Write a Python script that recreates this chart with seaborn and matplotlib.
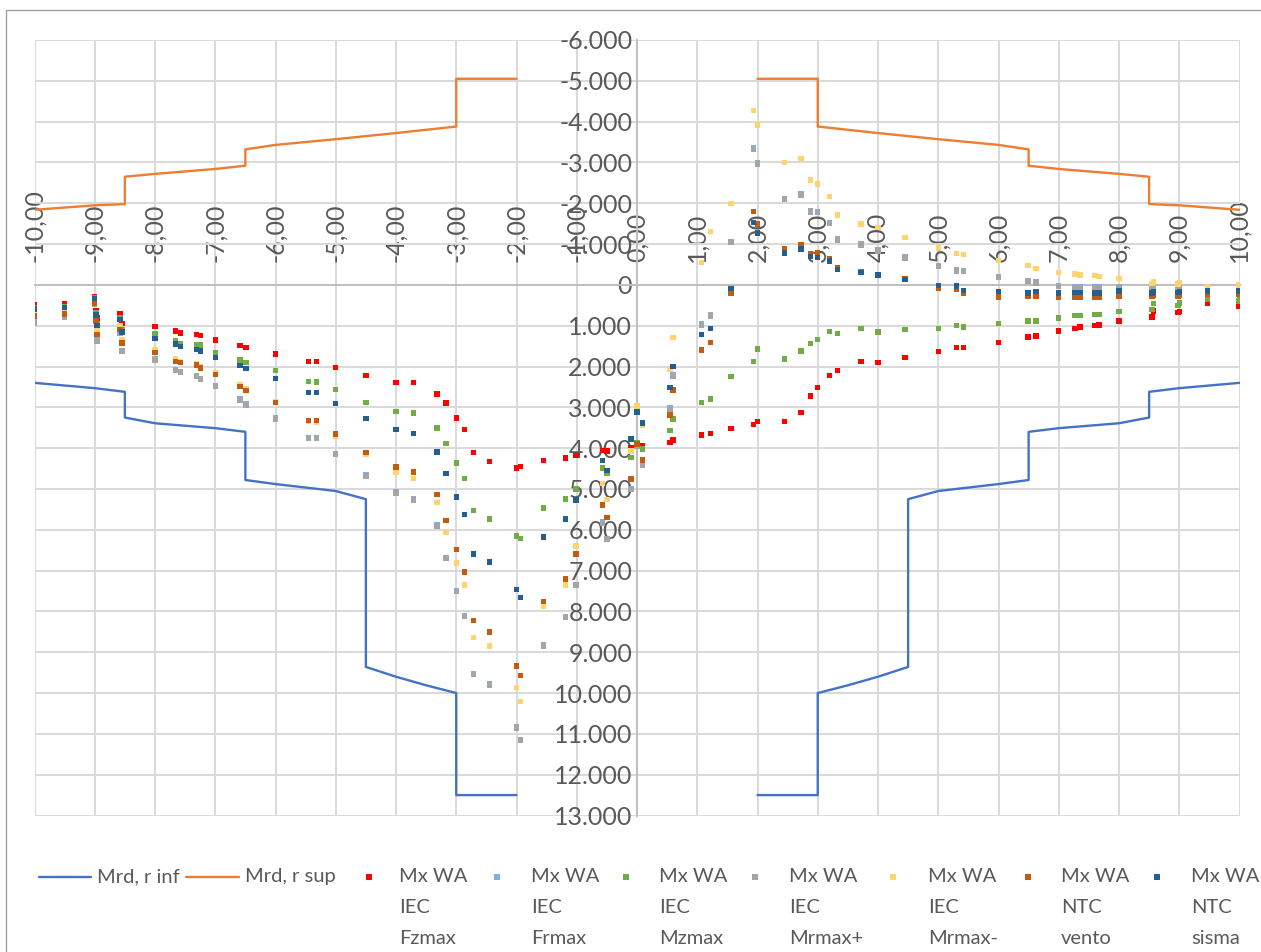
import numpy as np
import pandas as pd
import matplotlib
matplotlib.use("Agg")
import matplotlib.pyplot as plt
from matplotlib.lines import Line2D
from matplotlib.ticker import FuncFormatter, MultipleLocator
import seaborn as sns

# stations along the axis (m) and bending moments (kNm) per load case
x_pos = [-10.00, -9.50, -9.00, -8.98, -8.96, -8.58, -8.55, -8.00, -7.66, -7.58,
         -7.31, -7.24, -7.00, -6.59, -6.49, -6.00, -5.45, -5.32, -5.00, -4.50,
         -4.00, -3.71, -3.32, -3.17, -3.00, -2.86, -2.71, -2.45, -2.00, -1.93,
         -1.55, -1.19, -1.01, -0.57, -0.50, -0.10, 0.00, 0.09, 0.55, 0.60,
         1.07, 1.22, 1.56, 1.93, 2.00, 2.45, 2.72, 2.88, 3.00, 3.19,
         3.33, 3.72, 4.00, 4.45, 5.00, 5.30, 5.42, 6.00, 6.49, 6.62,
         7.00, 7.27, 7.35, 7.60, 7.67, 8.00, 8.55, 8.57, 8.98, 9.00,
         9.47, 9.99, 10.00]

fz_max = [480, 450, 290, 630, 810, 715, 940, 1020, 1130, 1180,
          1210, 1240, 1350, 1490, 1530, 1690, 1880, 1880, 2030, 2220,
          2390, 2390, 2670, 2890, 3260, 3550, 4110, 4330, 4490, 4450,
          4300, 4240, 4180, 4050, 4070, 4000, 3880, 3940, 3855, 3800,
          3676, 3635, 3513, 3415, 3350, 3350, 3130, 2722, 2510, 2225,
          2103, 1883, 1907, 1785, 1638, 1532, 1532, 1410, 1276, 1250,
          1130, 1073, 1032, 992, 980, 886, 789, 642, 683, 650,
          463, 520, 463]

fr_max = [900, 780, 455, 880, 1350, 1170, 1600, 1820, 2080, 2120,
          2220, 2290, 2470, 2790, 2920, 3260, 3740, 3740, 4130, 4660,
          5070, 5240, 5880, 6680, 7480, 8100, 9520, 9780, 10830, 11140,
          8820, 8120, 7340, 5810, 6210, 4990, 3930, 4380, 3020, 2200,
          960, 740, -1070, -3350, -2990, -2110, -2230, -1820, -1800, -1530,
          -1130, -1000, -860, -690, -480, -370, -350, -200, -110, -70,
          20, 40, 40, 50, 50, 40, 100, 70, 100, 60,
          80, 60, 70]

mz_max = [560, 530, 320, 690, 950, 800, 1100, 1200, 1360, 1430,
          1470, 1470, 1650, 1840, 1900, 2100, 2360, 2380, 2570, 2880,
          3100, 3140, 3510, 3890, 4360, 4740, 5520, 5740, 6150, 6210,
          5470, 5250, 5000, 4490, 4620, 4230, 3860, 4020, 3570, 3290,
          2885, 2795, 2249, 1883, 1573, 1817, 1622, 1434, 1337, 1149,
          1190, 1068, 1157, 1092, 1068, 1000, 1030, 950, 886, 886,
          813, 748, 748, 723, 723, 650, 602, 463, 500, 447,
          341, 398, 341]

mr_max_plus = [930, 800, 470, 900, 1370, 1190, 1620, 1840, 2100, 2140,
               2240, 2310, 2490, 2820, 2940, 3290, 3760, 3760, 4150, 4690,
               5100, 5270, 5910, 6710, 7510, 8130, 9550, 9810, 10860, 11170,
               8850, 8150, 7370, 5840, 6240, 5020, 3950, 4410, 3050, 2230,
               986, 766, -1043, -3320, -2960, -2085, -2200, -1790, -1775, -1500,
               -1100, -975, -835, -660, -456, -342, -325, -175, -90, -50,
               40, 57, 57, 73, 73, 60, 120, 90, 120, 80,
               100, 80, 90]

mr_max_minus = [700, 680, 400, 800, 1100, 1000, 1350, 1590, 1800, 1870,
                1930, 2000, 2150, 2450, 2550, 2850, 3350, 3360, 3720, 4150,
                4580, 4740, 5330, 6060, 6810, 7350, 8640, 8850, 9870, 10200,
                7880, 7350, 6400, 4860, 5260, 4070, 2970, 3450, 2060, 1290,
                -550, -1308, -2000, -4270, -3920, -3000, -3100, -2570, -2470, -2160,
                -1710, -1490, -1400, -1160, -905, -766, -740, -600, -470, -407,
                -310, -268, -244, -228, -203, -163, -41, -89, -20, -65,
                33, 0, -10]

ntc_vento = [760, 715, 440, 860, 1210, 1090, 1420, 1650, 1880, 1900,
             1960, 2040, 2200, 2490, 2590, 2880, 3320, 3320, 3650, 4100,
             4460, 4580, 5130, 5780, 6490, 7030, 8230, 8500, 9340, 9570,
             7760, 7210, 6590, 5390, 5700, 4760, 3900, 4290, 3190, 2575,
             1597, 1410, 196, -1800, -1490, -880, -980, -760, -780, -650,
             -410, -330, -260, -150, 80, 100, 200, 300, 285, 276,
             300, 300, 300, 300, 300, 285, 276, 250, 290, 250,
             240, 220, 230]

ntc_sisma = [590, 555, 340, 740, 990, 850, 1150, 1310, 1450, 1510,
             1580, 1620, 1780, 1980, 2050, 2290, 2630, 2630, 2910, 3280,
             3550, 3640, 4090, 4620, 5200, 5620, 6590, 6790, 7470, 7660,
             6180, 5740, 5270, 4300, 4550, 3780, 3110, 3380, 2510, 2005,
             1214, 1068, 90, -1530, -1270, -780, -880, -690, -670, -590,
             -370, -305, -240, -130, 8, 30, 138, 160, 195, 163,
             203, 179, 179, 203, 203, 154, 195, 160, 190, 160,
             154, 138, 150]

# resisting moment envelopes, two branches each (left / right of the gap)
inf_x_left = [-10, -9, -8.5, -8.5, -8, -7, -6.5, -6.5, -6, -5, -4.5, -4.5, -4, -3.5, -3, -3, -2]
inf_y_left = [2400, 2530, 2620, 3250, 3390, 3510, 3600, 4780, 4880, 5050, 5250, 9360, 9600, 9810, 10000, 12500, 12500]
inf_x_right = [2, 3, 3, 3.5, 4, 4.5, 4.5, 5, 6, 6.5, 6.5, 7, 8, 8.5, 8.5, 9, 10]
inf_y_right = [12500, 12500, 10000, 9810, 9600, 9360, 5250, 5050, 4880, 4780, 3600, 3510, 3390, 3250, 2620, 2530, 2400]

sup_x_left = [-10, -9, -8.5, -8.5, -8, -7, -6.5, -6.5, -6, -5, -4, -3, -3, -2]
sup_y_left = [-1840, -1950, -1980, -2650, -2720, -2840, -2920, -3320, -3430, -3570, -3720, -3880, -5050, -5050]
sup_x_right = [2, 3, 3, 4, 5, 6, 6.5, 6.5, 7, 8, 8.5, 8.5, 9, 10]
sup_y_right = [-5050, -5050, -3880, -3720, -3570, -3430, -3320, -2920, -2840, -2720, -2650, -1980, -1950, -1840]

series_names = ["Mx WA\nIEC\nFzmax", "Mx WA\nIEC\nFrmax", "Mx WA\nIEC\nMzmax",
                "Mx WA\nIEC\nMrmax+", "Mx WA\nIEC\nMrmax-", "Mx WA\nNTC\nvento",
                "Mx WA\nNTC\nsisma"]
series_values = [fz_max, fr_max, mz_max, mr_max_plus, mr_max_minus, ntc_vento, ntc_sisma]
series_colors = ["#FF0000", "#84ACDF", "#70AD47", "#A5A5A5", "#FFD36E", "#C55A11", "#255E91"]

INF_COLOR = "#4472C4"
SUP_COLOR = "#ED7D31"
TEXT_COLOR = "#595959"
GRID_COLOR = "#D9D9D9"

sns.set_style("white")
plt.rcParams["font.family"] = ["Lato", "DejaVu Sans"]

W, H = 1261, 952
fig = plt.figure(figsize=(W / 100, H / 100), dpi=100)
ax = fig.add_axes([34.5 / W, 1 - 815.5 / H, 1205 / W, 775.5 / H])

inf_df = pd.DataFrame({
    "x": inf_x_left + inf_x_right,
    "M": inf_y_left + inf_y_right,
    "tratto": ["sx"] * len(inf_x_left) + ["dx"] * len(inf_x_right),
})
sup_df = pd.DataFrame({
    "x": sup_x_left + sup_x_right,
    "M": sup_y_left + sup_y_right,
    "tratto": ["sx"] * len(sup_x_left) + ["dx"] * len(sup_x_right),
})
sns.lineplot(data=inf_df, x="x", y="M", units="tratto", estimator=None, sort=False,
             color=INF_COLOR, lw=1.7, ax=ax, legend=False)
sns.lineplot(data=sup_df, x="x", y="M", units="tratto", estimator=None, sort=False,
             color=SUP_COLOR, lw=1.7, ax=ax, legend=False)

points = pd.concat(
    [pd.DataFrame({"x": x_pos, "M": vals, "serie": name})
     for name, vals in zip(series_names, series_values)],
    ignore_index=True,
)
sns.scatterplot(data=points, x="x", y="M", hue="serie", hue_order=series_names,
                palette=series_colors, marker="s", s=15, linewidth=0,
                ax=ax, legend=False, zorder=3)

ax.set_xlim(-10, 10)
ax.set_ylim(13000, -6000)
ax.xaxis.set_major_locator(MultipleLocator(1))
ax.yaxis.set_major_locator(MultipleLocator(1000))
ax.xaxis.set_major_formatter(FuncFormatter(lambda v, _: f"{v:.2f}".replace(".", ",")))
ax.yaxis.set_major_formatter(FuncFormatter(
    lambda v, _: "0" if abs(v) < 1e-9 else f"{v:,.0f}".replace(",", ".")))
ax.set_xlabel("")
ax.set_ylabel("")

ax.grid(True, color=GRID_COLOR, lw=1.4)
ax.set_axisbelow(True)

ax.xaxis.tick_top()
ax.spines["top"].set_position(("data", 0))
ax.spines["left"].set_position(("data", 0))
ax.spines["bottom"].set_visible(False)
ax.spines["right"].set_visible(False)
for side in ["top", "left"]:
    ax.spines[side].set_color("#BFBFBF")
    ax.spines[side].set_linewidth(1.4)

ax.tick_params(axis="x", which="both", length=0, pad=16.5, labelsize=18,
               labelcolor=TEXT_COLOR, labelrotation=90)
ax.tick_params(axis="y", which="both", length=0, pad=3.5, labelsize=18,
               labelcolor=TEXT_COLOR)

# chart area frame
fig.add_artist(Line2D([5.5 / W, 5.5 / W], [0, 1 - 9.5 / H], transform=fig.transFigure,
                      color="#A0A0A0", lw=1.0))
fig.add_artist(Line2D([5.5 / W, 1], [1 - 9.5 / H, 1 - 9.5 / H], transform=fig.transFigure,
                      color="#A0A0A0", lw=1.0))

# legend, laid out like the spreadsheet one (handle level with the first text line)
ly = 1 - 877 / H
top = 1 - 868 / H
for (x0, x1, tx, label, col) in [(39, 91, 97, "Mrd, r inf", INF_COLOR),
                                 (186, 239, 245, "Mrd, r sup", SUP_COLOR)]:
    fig.add_artist(Line2D([x0 / W, x1 / W], [ly, ly], transform=fig.transFigure,
                          color=col, lw=1.7))
    fig.text(tx / W, top, label, fontsize=14.5, color=TEXT_COLOR, va="top")

marker_px = [369, 497, 626, 755, 893, 1028, 1157]
text_px = [399, 531, 659, 789, 928, 1061, 1191]
for mx, tx, label, col in zip(marker_px, text_px, series_names, series_colors):
    fig.add_artist(Line2D([mx / W], [ly], transform=fig.transFigure, marker="s",
                          ms=3.8, color=col, ls="none", mew=0))
    fig.text(tx / W, top, label, fontsize=14.5, color=TEXT_COLOR, va="top",
             linespacing=2.0)

fig.savefig("out.png", dpi=100, facecolor="white")
